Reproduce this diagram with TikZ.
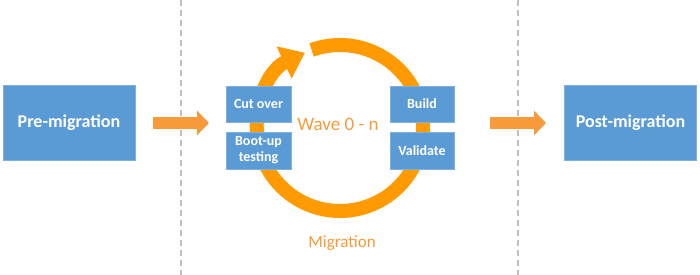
\documentclass[tikz,border=0pt]{standalone}
\usepackage{fontspec}
\setmainfont{Carlito}
\usepackage{xcolor}
\usetikzlibrary{arrows.meta, positioning}
\definecolor{boxblue}{HTML}{5B9BD5}
\definecolor{boxedge}{HTML}{7FB1E0}
\definecolor{ringorange}{HTML}{FF9A00}
\definecolor{arroworange}{HTML}{F79A3A}
\definecolor{dashgray}{HTML}{BFBFBF}
\tikzset{
  stagebox/.style={rectangle, draw=boxedge, line width=0.6pt, fill=boxblue, text=white,
    font=\bfseries\fontsize{18}{20}\selectfont, minimum width=132pt, minimum height=75pt, inner sep=0pt},
  stepbox/.style={rectangle, draw=boxedge, line width=0.6pt, fill=boxblue, text=white, align=center,
    font=\bfseries\fontsize{14}{16}\selectfont, minimum width=65pt, minimum height=36pt, inner sep=0pt},
  flowarrow/.style={draw=arroworange, line width=12pt, -{Triangle[width=24pt, length=12pt]}},
  divider/.style={draw=dashgray, line width=1.3pt, dash pattern=on 6pt off 4pt}
}
\begin{document}
\begin{tikzpicture}[x=1pt, y=1pt]
  \useasboundingbox (0,0) rectangle (700,275);

  \coordinate (d1top) at (181,275);
  \coordinate (d1bot) at (181,0);
  \coordinate (d2top) at (518,275);
  \coordinate (d2bot) at (518,0);
  \draw[divider] (d1top) -- (d1bot);
  \draw[divider] (d2top) -- (d2bot);

  \node[stagebox] (pre) at (69,152.5) {Pre-migration};
  \node[stagebox] (post) at (630.5,152.5) {Post-migration};

  \coordinate (ring) at (340,147);
  \draw[draw=ringorange, line width=14pt, -{Triangle[width=34pt, length=23pt]}]
    ([shift={(110:83)}]ring) arc[start angle=110, end angle=-245, radius=83];

  \node[stepbox] (cut) at (258.5,171) {Cut over};
  \node[stepbox, minimum height=37pt] (boot) at (258.5,124.5) {Boot-up\\testing};
  \node[stepbox, minimum width=64pt] (build) at (422,171) {Build};
  \node[stepbox, minimum width=64pt, minimum height=37pt] (validate) at (422,124.5) {Validate};

  \node[text=arroworange, font=\fontsize{19}{21}\selectfont] (wave) at (338,151) {Wave 0 - n};
  \node[text=arroworange, font=\fontsize{17}{19}\selectfont] (migration) at (342,32) {Migration};

  \coordinate (a1s) at (153,152);
  \coordinate (a1e) at (209,152);
  \coordinate (a2s) at (490,152);
  \coordinate (a2e) at (546,152);
  \draw[flowarrow] (a1s) -- (a1e);
  \draw[flowarrow] (a2s) -- (a2e);
\end{tikzpicture}
\end{document}
